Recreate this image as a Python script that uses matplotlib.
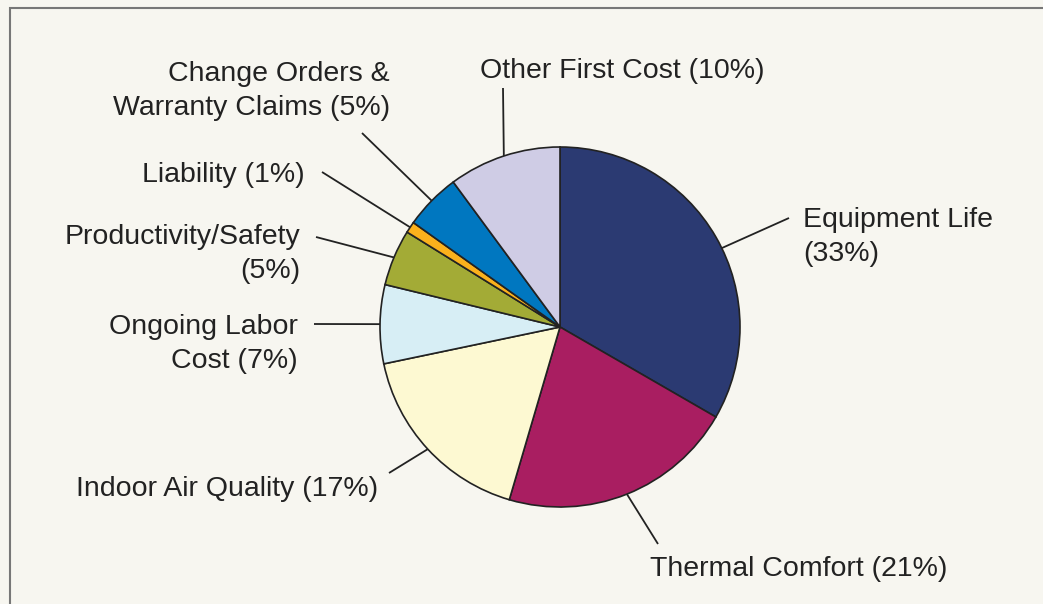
import numpy as np
import matplotlib
matplotlib.use("Agg")
import matplotlib.pyplot as plt
from matplotlib.patches import Rectangle

# data
labels = ["Equipment Life\n(33%)", "Thermal Comfort (21%)", "Indoor Air Quality (17%)",
          "Ongoing Labor\nCost (7%)", "Productivity/Safety\n(5%)", "Liability (1%)",
          "Change Orders &\nWarranty Claims (5%)", "Other First Cost (10%)"]
shares = [33, 21, 17, 7, 5, 1, 5, 10]
colors = ["#2b3a72", "#a91e61", "#fdf9d2", "#d7eef5", "#a3ab36", "#fbb11c", "#0077c0", "#cfcce5"]

# label layout (pixel coords of the 1043x604 picture, y from top)
text_xy = [(803, 237), (650, 569), (378, 489), (298, 344), (300, 254), (305, 175), (390, 91), (622, 71)]
text_ha = ["left", "left", "right", "right", "right", "right", "right", "center"]
leader_end = [(789, 218), (658, 544), (389, 473), (314, 324), (316, 237), (322, 172), (362, 133), (503, 88)]
angle_shift = [-4, 0, 0, 0, 0, 0, 0, 0]

W, H = 1043, 604
bg = "#f7f6f0"
ink = "#222222"
plt.rcParams["font.family"] = ["Liberation Sans", "DejaVu Sans"]

fig = plt.figure(figsize=(W / 100, H / 100), dpi=100, facecolor=bg)
ax = fig.add_axes([0, 0, 1, 1])
ax.set_facecolor(bg)

cx, cy, r = 560, H - 327, 180
wedges, _ = ax.pie(shares, colors=colors, startangle=90, counterclock=False,
                   center=(cx, cy), radius=r,
                   wedgeprops=dict(edgecolor=ink, linewidth=1.2))

for w, lab, (tx, ty), ha, (lx, ly), sh in zip(wedges, labels, text_xy, text_ha, leader_end, angle_shift):
    mid = np.deg2rad((w.theta1 + w.theta2) / 2 + sh)
    px, py = cx + r * np.cos(mid), cy + r * np.sin(mid)
    ax.plot([px, lx], [py, H - ly], color=ink, lw=1.3, solid_capstyle="butt", zorder=3)
    ax.text(tx, H - ty, lab, ha=ha, va="center", multialignment=ha,
            fontsize=20.5, color=ink, linespacing=1.36)

# frame: only top and left edges show
ax.add_patch(Rectangle((9.5, -20), W + 40, H - 7.5 + 20, fill=False,
                       edgecolor="#777777", lw=1.5, clip_on=False))

ax.set_xlim(0, W)
ax.set_ylim(0, H)
ax.set_aspect("equal")
ax.axis("off")

fig.savefig("out.png", dpi=100, facecolor=bg)
